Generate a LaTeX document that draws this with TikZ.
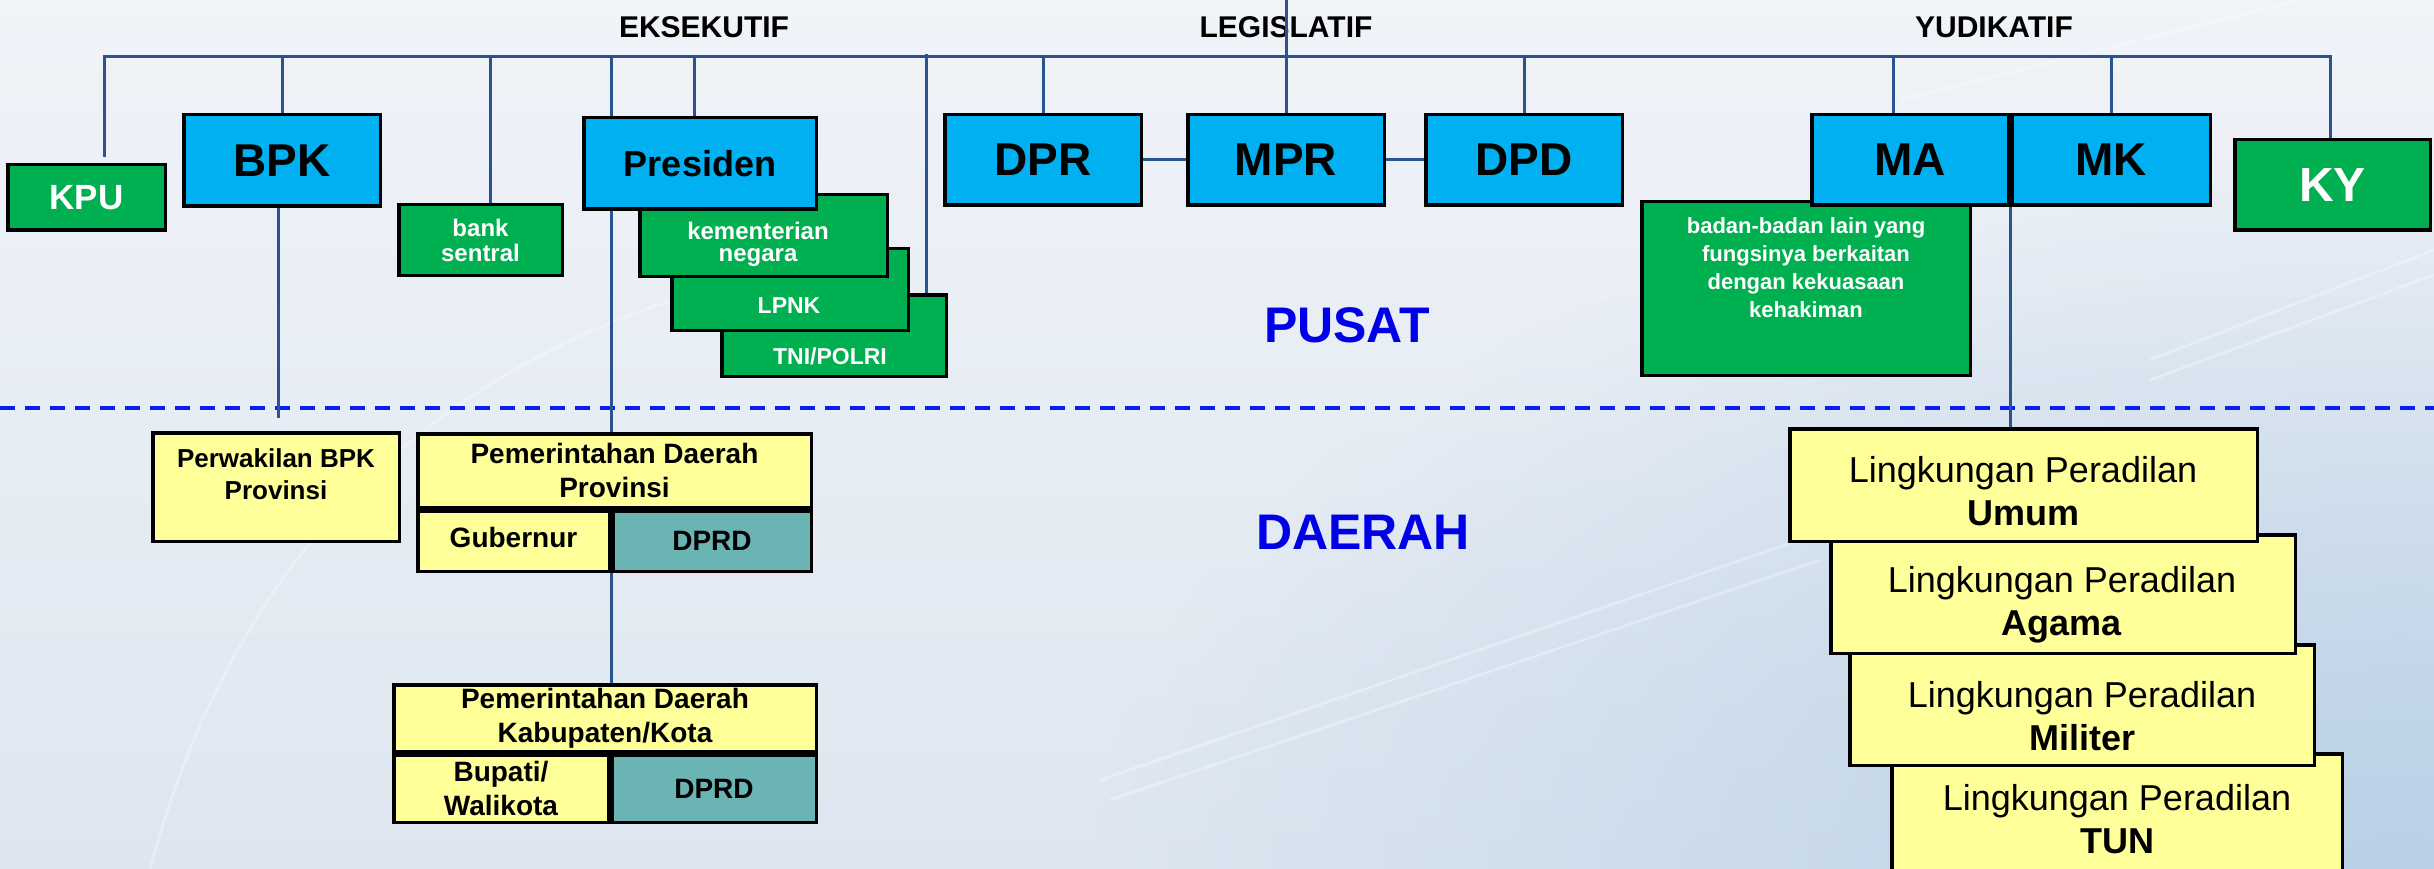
\documentclass[tikz,border=0pt]{standalone}
\usepackage{fontspec}
\setmainfont{Liberation Sans}
\usetikzlibrary{backgrounds,fadings}
\definecolor{cyanbox}{HTML}{00B0F0}
\definecolor{greenbox}{HTML}{00B050}
\definecolor{yellowbox}{HTML}{FFFF99}
\definecolor{tealbox}{HTML}{6BB4B4}
\definecolor{connblue}{HTML}{2A5490}
\definecolor{dashblue}{HTML}{0A1EF0}
\definecolor{titleblue}{HTML}{0000E8}
\definecolor{bgtop}{HTML}{F0F3F8}
\definecolor{bgbot}{HTML}{DDE6F0}
\definecolor{bgright}{HTML}{B9D0E6}
\newcommand{\myfs}[2]{\fontsize{#1}{#2}\selectfont}
\tikzfading[name=myglow, inner color=transparent!0, outer color=transparent!100]
\pgfdeclarelayer{bgimg}
\pgfsetlayers{bgimg,background,main}
\begin{document}
\begin{tikzpicture}[x=1pt,y=-1pt,
  box/.style={draw=black, line width=3.5pt, inner sep=0pt, align=center},
  cbox/.style={box, fill=cyanbox, font=\bfseries\myfs{46}{50}},
  gbox/.style={box, fill=greenbox, text=white},
  ybox/.style={box, fill=yellowbox, font=\bfseries\myfs{28}{34}},
  tbox/.style={box, fill=tealbox, font=\bfseries\myfs{28}{34}},
  sz/.style 2 args={minimum width=#1pt, minimum height=#2pt},
  conn/.style={draw=connblue, line width=3pt},
  lbl/.style={inner sep=0pt, align=center},
  head/.style={lbl, font=\bfseries\myfs{30}{34}},
  region/.style={lbl, text=titleblue, font=\bfseries\myfs{50}{56}},
  court/.style={lbl, font=\myfs{36}{43}},
  streak/.style={draw=white, line width=3pt, opacity=0.3},
]
\useasboundingbox (0,0) rectangle (2434,869);

% ---------- background ----------
\begin{pgfonlayer}{bgimg}
  \shade[top color=bgtop, bottom color=bgbot] (0,0) rectangle (2434,869);
  \fill[bgright, path fading=myglow] (1100,150) rectangle (3700,1590);
  \draw[streak] (150,869) .. controls (250,500) and (500,300) .. (900,250);
  \draw[streak] (1100,780) -- (1800,540);
  \draw[streak] (1110,800) -- (1820,560);
  \draw[streak] (2150,360) -- (2434,250);
  \draw[streak] (2150,380) -- (2434,275);
  \draw[streak] (1900,100) -- (2300,0);
  \draw[dashblue, line width=4.5pt, dash pattern=on 15pt off 10pt] (0,408) -- (2434,408);
  \node[head] (eks) at (704,27.5) {EKSEKUTIF};
  \node[head] (leg) at (1286,27.5) {LEGISLATIF};
  \node[head] (yud) at (1994,27.5) {YUDIKATIF};
  \node[region] (pusat) at (1347,325) {PUSAT};
  \node[region] (daerah) at (1363,532) {DAERAH};
\end{pgfonlayer}

% ---------- nodes: pusat ----------
\node[gbox, sz={157.5}{65.5}, font=\bfseries\myfs{35}{40}] (KPU) at (86.5,197.5) {KPU};
\node[cbox, sz={196.5}{91.5}] (BPK) at (282,160.5) {BPK};
\node[gbox, sz={163.5}{70.5}, font=\bfseries\myfs{24}{25}] (bank) at (480.5,240) {bank\\sentral};

\node[gbox, sz={224.5}{81.5}] (TNI) at (834,335.5) {};
\node[lbl, text=white, font=\bfseries\myfs{23}{26}] (TNIt) at (830,356) {TNI/POLRI};
\node[gbox, sz={236.5}{81.5}] (LPNK) at (790,289.5) {};
\node[lbl, text=white, font=\bfseries\myfs{23}{26}] (LPNKt) at (789,306) {LPNK};
\node[gbox, sz={247.5}{81.5}] (kem) at (763.5,235.5) {};
\node[lbl, text=white, font=\bfseries\myfs{24}{22}] (kemt) at (758,244) {kementerian\\negara};
\node[cbox, sz={232.5}{91.5}, font=\bfseries\myfs{36}{40}] (Pres) at (700,163.5) {Presiden};

\node[cbox, sz={196.5}{90.5}] (DPR) at (1043,160) {DPR};
\node[cbox, sz={196.5}{90.5}] (MPR) at (1286,160) {MPR};
\node[cbox, sz={196.5}{90.5}] (DPD) at (1524,160) {DPD};

\node[gbox, sz={328.5}{173.5}] (badan) at (1806,288.5) {};
\node[lbl, text=white, font=\bfseries\myfs{22}{28}] (badant) at (1806,268) {badan-badan lain yang\\fungsinya berkaitan\\dengan kekuasaan\\kehakiman};
\node[cbox, sz={196.5}{90.5}] (MA) at (1910,160) {MA};
\node[cbox, sz={198.5}{90.5}] (MK) at (2111,160) {MK};
\node[gbox, sz={195.5}{90.5}, font=\bfseries\myfs{48}{52}] (KY) at (2332.5,185) {KY};

% ---------- nodes: daerah ----------
\node[ybox, sz={246.5}{108.5}] (Perw) at (276,487) {};
\node[lbl, font=\bfseries\myfs{26}{32}] (Perwt) at (276,474) {Perwakilan BPK\\Provinsi};

\node[ybox, sz={393.5}{73.5}] (ProvT) at (614.5,470.5) {Pemerintahan Daerah\\Provinsi};
\node[ybox, sz={191.5}{60.5}] (Gub) at (513.5,541) {};
\node[lbl, font=\bfseries\myfs{28}{34}] (Gubt) at (513.5,537) {Gubernur};
\node[tbox, sz={198.5}{60.5}] (ProvD) at (712,541) {DPRD};

\node[ybox, sz={422.5}{66.5}] (KabT) at (605,718) {Pemerintahan Daerah\\Kabupaten/Kota};
\node[ybox, sz={214.5}{67.5}] (Bup) at (501,788.5) {Bupati/\\Walikota};
\node[tbox, sz={204.5}{67.5}] (KabD) at (714,788.5) {DPRD};

\node[ybox, sz={450.5}{129.5}] (TUN) at (2117,818.5) {};
\node[court] (TUNt) at (2117,819) {Lingkungan Peradilan\\\textbf{TUN}};
\node[ybox, sz={464.5}{120.5}] (Mil) at (2082,705) {};
\node[court] (Milt) at (2082,716) {Lingkungan Peradilan\\\textbf{Militer}};
\node[ybox, sz={464.5}{118.5}] (Aga) at (2063,594) {};
\node[court] (Agat) at (2062,604.5) {Lingkungan Peradilan\\\textbf{Agama}};
\node[ybox, sz={467.5}{112.5}] (Umum) at (2023.5,485) {};
\node[court] (Umumt) at (2023,491.5) {Lingkungan Peradilan\\\textbf{Umum}};

% ---------- connectors ----------
\begin{pgfonlayer}{background}
  \coordinate (tl) at (104,57);
  \coordinate (tr) at (2330,57);
  \coordinate (pl) at (611,57);
  \coordinate (lk) at (926,54);
  \coordinate (mt) at (1286,0);
  \draw[conn, line cap=rect] (tl) -- (tr);
  \draw[conn, shorten >=6pt] (tl) -- (tl |- KPU.north);
  \draw[conn] (BPK.north) -- (BPK.north |- tl);
  \draw[conn] ([xshift=10pt]bank.north) -- ([xshift=10pt]bank.north |- tl);
  \draw[conn] (pl) -- (pl |- ProvT.north);
  \draw[conn] ([xshift=-6pt]Pres.north) -- ([xshift=-6pt]Pres.north |- tl);
  \draw[conn] (lk) -- (lk |- TNI.north);
  \draw[conn] (DPR.north) -- (DPR.north |- tl);
  \draw[conn] (MPR.north) -- (mt);
  \draw[conn] (DPD.north) -- (DPD.north |- tl);
  \draw[conn] (DPR.east) -- (MPR.west);
  \draw[conn] (MPR.east) -- (DPD.west);
  \draw[conn] ([xshift=-17pt]MA.north) -- ([xshift=-17pt]MA.north |- tl);
  \draw[conn] (MK.north) -- (MK.north |- tl);
  \draw[conn] (tr) -- (tr |- KY.north);
  \draw[conn, shorten >=13pt] ([xshift=-4pt]BPK.south) -- ([xshift=-4pt]BPK.south |- Perw.north);
  \draw[conn] (pl |- ProvD.south) -- (pl |- KabT.north);
  \draw[conn] (MA.south east) -- (MA.south east |- Umum.north);
\end{pgfonlayer}
\end{tikzpicture}
\end{document}
